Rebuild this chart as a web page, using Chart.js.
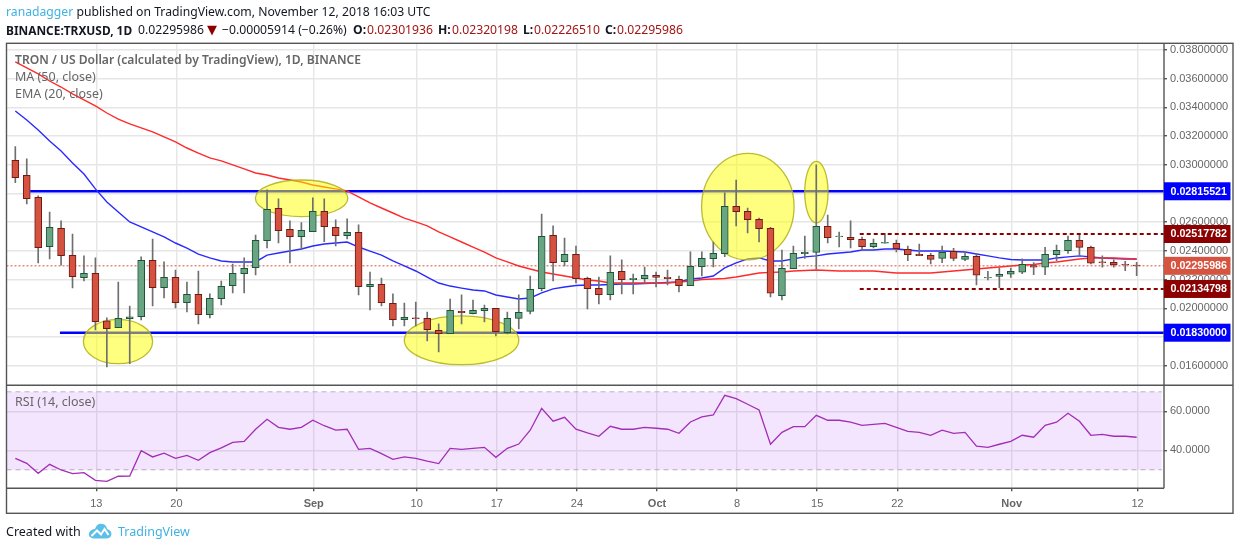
<!DOCTYPE html>
<html><head><meta charset="utf-8">
<style>
html,body{margin:0;padding:0;background:#fff;width:1240px;height:550px;overflow:hidden}
#wrap{position:relative;width:1240px;height:550px}
canvas{position:absolute;left:0;top:0}
.t{position:absolute;white-space:nowrap;font-family:"Noto Sans",sans-serif;font-size:12.5px;line-height:16px;color:#131722}
.h2{top:22px;font-size:12.2px}
.b{font-weight:700}
.lg{color:#666;font-size:12.5px}
.blue{color:#3fb2e2}
.red{color:#a31515}
</style></head><body><div id="wrap">
<canvas id="c" width="1240" height="550"></canvas>
<div class="t" style="left:6px;top:4px;font-size:12.2px"><span class="blue">ranadagger</span> published on TradingView.com, November 12, 2018 16:03 UTC</div>
<div class="t h2 b" style="left:6px;font-size:11.9px">BINANCE:TRXUSD, 1D</div>
<div class="t h2" style="left:138px">0.02295986</div>
<div class="t h2" style="left:207px;color:#8b0000;font-family:'DejaVu Sans';font-size:13px">▼</div>
<div class="t h2" style="left:222px">−0.00005914 (−0.26%)</div>
<div class="t h2 b" style="left:353px">O:</div><div class="t h2 red" style="left:367px">0.02301936</div>
<div class="t h2 b" style="left:438px">H:</div><div class="t h2 red" style="left:452px">0.02320198</div>
<div class="t h2 b" style="left:523px">L:</div><div class="t h2 red" style="left:534px">0.02226510</div>
<div class="t h2 b" style="left:605px">C:</div><div class="t h2 red" style="left:617px">0.02295986</div>
<div class="t lg" style="left:15px;top:52px;font-weight:600;font-size:12.1px">TRON / US Dollar (calculated by TradingView), 1D, BINANCE</div>
<div class="t lg" style="left:15px;top:69px">MA (50, close)</div>
<div class="t lg" style="left:15px;top:86px">EMA (20, close)</div>
<div class="t lg" style="left:15px;top:394px">RSI (14, close)</div>
<div class="t" style="left:6px;top:524px">Created with</div>
<svg style="position:absolute;left:88px;top:522px" width="24" height="18" viewBox="0 0 24 18"><path d="M1 11 Q3 7 7 7 Q9 1 14 2 Q18 2 19 7 Q23 8 23.5 12 Q23 16 19 16.5 L5 16.5 Q0 15 1 11 Z" fill="#5bbfe8"/><path d="M3.5 14 L9 8.5 L13 12.5 L16.5 7 L20.5 13" fill="none" stroke="#fff" stroke-width="2"/></svg>
<div class="t blue" style="left:118px;top:524px">TradingView</div>
</div>
<script src="https://cdn.jsdelivr.net/npm/chart.js@4"></script>
<script>
const tickDays=[7,14,26,35,42,49,56,63,70,77,87,98];
const tickLabels=["13","20","Sep","10","17","24","Oct","8","15","22","Nov","12"];
const priceTicks=[0.016,0.018,0.020,0.022,0.024,0.026,0.028,0.030,0.032,0.034,0.036,0.038];
const rsiTicks=[40,60];
const open=[.03031,.02927,.02773,.02430,.02557,.02369,.02214,.02244,.01912,.01865,.01928,.01942,.02334,.02144,.02216,.02039,.02097,.01956,.02067,.02158,.02241,.02283,.02471,.02697,.02550,
.02499,.02534,.02676,.02564,.02506,.02530,.02151,.02167,.02035,.01921,.01933,.01930,.01847,.01823,.01979,.01963,.01984,.02000,.01830,.01930,.01979,.02137,.02509,.02325,.02376,
.02209,.02139,.02095,.02258,.02200,.02207,.02230,.02216,.02202,.02158,.02290,.02346,.02381,.02711,.02676,.02620,.02557,.02088,.02276,.02381,.02390,.02571,.02499,.02495,.02481,
.02430,.02453,.02453,.02411,.02376,.02369,.02348,.02397,.02341,.02362,.02211,.02223,.02237,.02251,.02297,.02286,.02374,.02402,.02474,.02425,.02323,.02320,.02307,.02301936];
const high=[.03127,.03041,.02783,.02671,.02609,.02518,.02365,.02351,.01933,.02183,.02016,.02358,.02483,.02323,.02267,.02183,.02260,.02100,.02190,.02309,.02351,.02511,.02825,.02762,.02609,
.02597,.02769,.02762,.02616,.02623,.02581,.02253,.02211,.02100,.02037,.02044,.01974,.01891,.02065,.02093,.02058,.02023,.02000,.01974,.02093,.02225,.02657,.02574,.02490,.02434,
.02218,.02218,.02365,.02337,.02239,.02288,.02253,.02267,.02225,.02393,.02393,.02462,.02804,.02894,.02699,.02629,.02564,.02406,.02434,.02504,.02999,.02650,.02532,.02609,.02497,
.02483,.02523,.02476,.02434,.02448,.02383,.02434,.02418,.02393,.02383,.02258,.02281,.02281,.02344,.02318,.02425,.02441,.02504,.02523,.02434,.02365,.02337,.02328,.02320198];
const low=[.02876,.02727,.02316,.02344,.02300,.02142,.02190,.01849,.01591,.01865,.01614,.01919,.02016,.02072,.02002,.01974,.01891,.01933,.02023,.02107,.02107,.02232,.02420,.02455,.02316,
.02411,.02534,.02465,.02434,.02483,.02093,.01988,.02016,.01877,.01877,.01877,.01772,.01696,.01823,.01891,.01960,.01905,.01807,.01821,.01856,.01960,.02121,.02190,.02295,.02177,
.01995,.02030,.02058,.02100,.02100,.02174,.02149,.02163,.02114,.02158,.02225,.02288,.02360,.02574,.02525,.02462,.02079,.02058,.02276,.02348,.02274,.02455,.02427,.02420,.02406,
.02420,.02453,.02393,.02332,.02367,.02309,.02318,.02332,.02332,.02163,.02197,.02144,.02216,.02242,.02235,.02235,.02332,.02383,.02372,.02309,.02286,.02286,.02262,.02226510];
const close=[.02911,.02764,.02423,.02564,.02367,.02221,.02244,.01907,.01858,.01930,.01940,.02334,.02144,.02216,.02039,.02097,.01956,.02070,.02153,.02244,.02279,.02474,.02690,.02541,.02499,
.02544,.02676,.02569,.02506,.02530,.02151,.02167,.02039,.01921,.01937,.01928,.01851,.01823,.01986,.01970,.01986,.02000,.01837,.01930,.01972,.02132,.02502,.02318,.02376,.02207,
.02137,.02095,.02251,.02200,.02209,.02230,.02216,.02207,.02158,.02293,.02348,.02383,.02711,.02674,.02618,.02555,.02105,.02279,.02383,.02390,.02571,.02492,.02504,.02479,.02430,
.02453,.02460,.02416,.02374,.02367,.02341,.02390,.02348,.02362,.02230,.02216,.02237,.02258,.02307,.02286,.02376,.02404,.02474,.02425,.02314,.02318,.02302,.02302,.02295986];
const ma50=[.03717,.03675,.03633,.03584,.03542,.03494,.03452,.03410,.03361,.03319,.03285,.03257,.03229,.03194,.03159,.03117,.03082,.03048,.03027,.02999,.02971,.02943,.02929,.02908,.02894,
.02880,.02859,.02845,.02832,.02818,.02776,.02734,.02699,.02664,.02629,.02602,.02574,.02532,.02497,.02462,.02427,.02392,.02351,.02323,.02295,.02274,.02253,.02239,.02225,.02211,
.02197,.02190,.02176,.02176,.02176,.02176,.02176,.02176,.02183,.02190,.02201,.02204,.02208,.02218,.02232,.02246,.02250,.02253,.02260,.02263,.02267,.02263,.02260,.02260,.02260,
.02260,.02253,.02246,.02246,.02246,.02246,.02253,.02260,.02267,.02274,.02281,.02288,.02295,.02302,.02305,.02316,.02323,.02333,.02344,.02351,.02351,.02351,.02347,.02344];
const ema20=[.03375,.03312,.03243,.03166,.03096,.03013,.02936,.02832,.02741,.02671,.02602,.02567,.02532,.02497,.02455,.02420,.02378,.02351,.02330,.02323,.02323,.02323,.02371,.02385,.02399,
.02413,.02434,.02448,.02455,.02462,.02427,.02399,.02371,.02330,.02295,.02260,.02218,.02176,.02155,.02141,.02128,.02121,.02093,.02079,.02065,.02072,.02107,.02135,.02148,.02159,
.02162,.02162,.02166,.02169,.02169,.02173,.02176,.02180,.02183,.02204,.02211,.02225,.02281,.02316,.02344,.02351,.02330,.02330,.02344,.02358,.02365,.02378,.02385,.02392,.02406,
.02406,.02413,.02413,.02406,.02399,.02399,.02399,.02396,.02392,.02378,.02365,.02351,.02340,.02337,.02337,.02337,.02351,.02358,.02365,.02358,.02351,.02347,.02344,.02344];
const rsi=[35.9,33.3,28.2,32.8,29.9,28,28.5,24.6,24.1,26.7,26.8,39.8,36.6,38.5,35.9,37.4,34.9,38.8,41.2,44.1,44.6,50.8,55.9,51.8,50.8,
51.8,55.4,52.6,50.3,50.8,40.5,41,38.3,35.4,36.6,35.9,34.4,33.2,41,40.5,41,41.5,36.4,41,43.2,50.3,61.5,54.9,56.9,50.8,
48.9,47.2,52.3,50.8,50.8,51.8,51.3,50.8,48.7,54.5,57.1,58.1,68.2,66.5,63.6,60.7,43.1,49.2,52.1,52.1,57.9,55.4,55.4,54.4,52.8,
53.3,53.8,51.8,49.7,49.2,47.7,50.3,48.7,49.2,42.1,41.5,43.1,44.6,47.7,46.7,52.8,54.4,59,54.9,47.7,48.2,47.2,47.2,46.7];
const levelPrices=[0.02815521,0.02517782,0.02295986,0.02134798,0.0183];
const levelStartDays=[1.3,73.8,-0.77,73.8,3.9];
const levelColors=["#0000ff","#8b0000","#d6533f","#8b0000","#0000ff"];
const calloutDayFrom=[5.95,20.98,34.0,59.98,68.99];
const calloutDayTo=[12.0,29.06,44.0,68.06,71.03];
const calloutHigh=[.01923,.02894,.01947,.03080,.03024];
const calloutLow=[.01614,.02639,.01607,.02337,.02595];
const rsiUpper=70, rsiLower=30;
const xMin=-0.77,xMax=100.39,bandEnd=100.2;
const pts=a=>a.map((v,i)=>({x:i,y:v}));
const isUp=i=>close[i]>=open[i];
const days=open.map((_,i)=>i);
const lineDefaults={type:'line',pointRadius:0,tension:0,fill:false};
const datasets=[
 {type:'bar',label:'Body',data:days.map(i=>({x:i,y:[open[i],close[i]]})),yAxisID:'y',barThickness:7,grouped:false,borderWidth:1,borderSkipped:false,
  backgroundColor:days.map(i=>isUp(i)?'#6aa583':'#d55240'),borderColor:days.map(i=>isUp(i)?'#1b5537':'#6f1a13'),order:1},
 {type:'bar',label:'Wick',data:days.map(i=>({x:i,y:[low[i],high[i]]})),yAxisID:'y',barThickness:1,grouped:false,backgroundColor:'#6f6f6f',order:2},
 {...lineDefaults,label:'MA 50',data:pts(ma50),yAxisID:'y',borderColor:'#ff2a2a',borderWidth:1.4,order:3},
 {...lineDefaults,label:'EMA 20',data:pts(ema20),yAxisID:'y',borderColor:'#2a2aff',borderWidth:1.4,order:4},
 {...lineDefaults,label:'RSI',data:pts(rsi),yAxisID:'rsiPane',borderColor:'#a32eb6',borderWidth:1.3,order:5},
 {...lineDefaults,label:'RSI upper',data:[{x:xMin,y:rsiUpper},{x:bandEnd,y:rsiUpper}],yAxisID:'rsiPane',borderColor:'#bfaec9',borderWidth:1,borderDash:[5,4],fill:'+1',backgroundColor:'rgba(150,40,240,0.12)',order:8},
 {...lineDefaults,label:'RSI lower',data:[{x:xMin,y:rsiLower},{x:bandEnd,y:rsiLower}],yAxisID:'rsiPane',borderColor:'#bfaec9',borderWidth:1,borderDash:[5,4],order:8}
];
levelPrices.forEach((p,i)=>{
 const solid=levelColors[i]==='#0000ff', last=i===2;
 datasets.push({...lineDefaults,label:'Level '+p,data:[{x:levelStartDays[i],y:p},{x:xMax,y:p}],yAxisID:'y',borderColor:levelColors[i],
  borderWidth:solid?2.6:(last?1:2),borderDash:solid?[]:(last?[2,2]:[4,3]),order:solid?7:(last?6:0)});
});
const furniture={id:'furniture',
 beforeDatasetDraw(ch,args){
  if(args.index!==1) return;
  const {ctx,scales:{x,y}}=ch;
  ctx.save();
  calloutDayFrom.forEach((_,i)=>{
   const l=x.getPixelForValue(calloutDayFrom[i]),r=x.getPixelForValue(calloutDayTo[i]),t=y.getPixelForValue(calloutHigh[i]),b=y.getPixelForValue(calloutLow[i]);
   ctx.beginPath();ctx.ellipse((l+r)/2,(t+b)/2,(r-l)/2,(b-t)/2,0,0,Math.PI*2);
   ctx.fillStyle='rgba(255,255,0,0.5)';ctx.fill();
   ctx.strokeStyle='rgba(175,175,20,0.85)';ctx.lineWidth=1.3;ctx.stroke();
  });
  ctx.restore();
 },
 afterDraw(ch){
  const {ctx,chartArea:a,scales:{y}}=ch;
  ctx.save();
  ctx.strokeStyle='#555';ctx.lineWidth=1.4;
  ctx.strokeRect(a.left,a.top,1233-a.left,513.3-a.top);
  ctx.beginPath();
  ctx.moveTo(a.left,y.bottom);ctx.lineTo(1233,y.bottom);
  ctx.moveTo(a.left,a.bottom);ctx.lineTo(a.right,a.bottom);
  ctx.moveTo(a.right,a.top);ctx.lineTo(a.right,a.bottom);
  ctx.stroke();
  levelPrices.forEach((p,i)=>{
   const py=y.getPixelForValue(p);
   ctx.fillStyle=levelColors[i];ctx.fillRect(a.right,py-9,66.5,18);
   ctx.fillStyle='#fff';ctx.font='bold 10.7px "Liberation Sans"';ctx.textBaseline='middle';ctx.textAlign='left';
   ctx.fillText(p.toFixed(8),a.right+6.5,py+0.5);
  });
  ctx.restore();
 }};
const gridOpts={color:'#e6e6e6',lineWidth:1.4,tickColor:'#555',tickLength:3,offset:false};
new Chart(document.getElementById('c'),{
 data:{datasets},
 plugins:[furniture],
 options:{responsive:false,animation:false,events:[],
  layout:{padding:{left:6.5,top:43.3,right:8.5,bottom:36.7}},
  plugins:{legend:{display:false},tooltip:{enabled:false}},
  scales:{
   x:{type:'linear',min:xMin,max:xMax,offset:false,
    grid:gridOpts,border:{display:false},
    afterBuildTicks(s){s.ticks=tickDays.map(d=>({value:d+0.08}));},
    afterFit(s){s.height=25;},
    ticks:{autoSkip:false,maxRotation:0,padding:6,color:'#666',
     font:c=>({family:'"Liberation Sans"',size:11,weight:/[A-Z]/.test(tickLabels[c.index]||'')?'bold':'normal'}),
     callback:(v,i)=>tickLabels[i]}},
   y:{type:'linear',position:'right',stack:'panes',stackWeight:342,min:0.014634,max:0.038467,
    grid:gridOpts,border:{display:false},
    afterBuildTicks(s){s.ticks=priceTicks.map(v=>({value:v}));},
    afterFit(s){s.width=67.5;},
    ticks:{autoSkip:false,padding:3,color:'#666',font:{family:'"Liberation Sans"',size:11},callback:v=>v.toFixed(8)}},
   rsiPane:{type:'linear',axis:'y',position:'right',stack:'panes',stackWeight:103,min:20.51,max:73.33,
    grid:gridOpts,border:{display:false},
    afterBuildTicks(s){s.ticks=rsiTicks.map(v=>({value:v}));},
    afterFit(s){s.width=67.5;},
    ticks:{autoSkip:false,padding:3,color:'#666',font:{family:'"Liberation Sans"',size:11},callback:v=>v.toFixed(4)}}
  }}
});
</script></body></html>
